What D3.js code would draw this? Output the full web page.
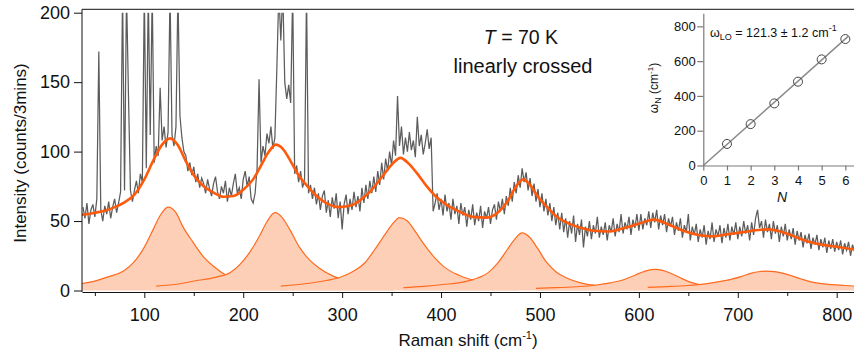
<!DOCTYPE html>
<html>
<head>
<meta charset="utf-8">
<script src="https://cdn.jsdelivr.net/npm/d3@7"></script>
<style>
  body { margin: 0; background: #fff; }
  text { font-family: "Liberation Sans", Arial, Helvetica, sans-serif; fill: #111; }
</style>
</head>
<body>
<script>
// main axes
const xTicks = [100, 200, 300, 400, 500, 600, 700, 800];
const xMinor = [50, 150, 250, 350, 450, 550, 650, 750];
const yTicks = [0, 50, 100, 150, 200];

// measured spectrum, one value every 2 cm-1 from 38 to 818
const specStart = 38, specStep = 2;
const specI = [
  // 38-98
  60, 52, 63, 48, 58, 62, 53, 66, 172, 58, 50, 61, 55, 64, 52, 60, 66, 56, 63, 71, 215, 72, 215, 140, 72, 64, 72, 79, 70, 84, 78,
  // 100-140
  215, 88, 215, 112, 215, 92, 104, 97, 146, 108, 118, 103, 114, 215, 112, 104, 118, 215, 126, 110, 100,
  // 142-210
  97, 86, 92, 83, 89, 78, 84, 74, 81, 77, 70, 80, 73, 68, 77, 82, 71, 66, 75, 70, 79, 64, 74, 68, 77, 84, 70, 74, 66, 80, 86, 75, 82, 66, 63,
  // 212-270
  70, 88, 152, 92, 104, 97, 113, 106, 118, 102, 110, 160, 215, 180, 215, 150, 138, 148, 135, 215, 84, 90, 78, 86, 74, 80, 215, 70, 76, 66,
  // 272-330
  74, 62, 70, 58, 68, 72, 56, 65, 53, 67, 59, 70, 52, 64, 44, 62, 69, 55, 66, 58, 71, 60, 68, 57, 74, 63, 76, 66, 79, 70,
  // 332-392
  82, 71, 86, 76, 92, 80, 95, 86, 100, 90, 108, 97, 140, 104, 118, 98, 110, 100, 114, 101, 108, 96, 125, 104, 112, 98, 106, 116, 102, 110, 57,
  // 394-460
  63, 70, 58, 66, 54, 69, 57, 63, 51, 66, 55, 61, 48, 63, 54, 60, 46, 58, 51, 62, 47, 56, 50, 61, 45, 57, 52, 60, 48, 58, 62, 51, 64, 57,
  // 462-520
  66, 55, 68, 61, 74, 64, 78, 70, 83, 74, 88, 78, 85, 72, 81, 68, 77, 64, 73, 60, 70, 57, 66, 54, 63, 50, 60, 47, 56, 44,
  // 522-600
  56, 42, 52, 38, 50, 41, 54, 35, 48, 40, 51, 31, 46, 39, 50, 37, 47, 41, 53, 38, 46, 40, 49, 36, 47, 42, 52, 39, 48, 42, 55, 41, 49, 44, 53, 40, 51, 45, 55, 43,
  // 602-700
  55, 44, 52, 47, 57, 45, 56, 49, 58, 44, 54, 47, 55, 42, 52, 46, 53, 40, 49, 43, 52, 38, 47, 42, 55, 36, 46, 40, 48, 35, 44, 38, 47, 33, 43, 37, 49, 35, 44, 39, 47, 34, 45, 38, 48, 36, 46, 40, 49, 37,
  // 702-818
  46, 39, 50, 41, 47, 36, 49, 40, 52, 58, 45, 50, 38, 51, 42, 48, 37, 50, 41, 47, 35, 46, 39, 48, 36, 44, 37, 45, 33, 43, 36, 42, 31, 40, 34, 41, 30, 38, 33, 40, 29, 37, 31, 38, 27, 36, 30, 37, 28, 35, 29, 36, 26, 34, 29, 35, 25, 33, 28
];

// total fit (orange)
const fitX = [37, 50, 60, 70, 80, 90, 100, 110, 118, 126, 134, 142, 150, 160, 170, 180, 190, 200, 210, 218, 226, 233, 240, 248, 256, 265, 275, 285, 297, 310, 320, 330, 340, 350, 359, 367, 375, 385, 395, 405, 418, 432, 446, 458, 468, 476, 483, 490, 498, 508, 518, 530, 542, 555, 570, 585, 600, 615, 630, 645, 660, 675, 690, 705, 720, 730, 740, 755, 770, 785, 800, 818];
const fitY = [54.5, 56, 57.5, 60, 63.5, 69, 80, 95, 105, 109.5, 104.5, 93, 83, 75, 70.5, 67.5, 68, 72.5, 80, 90, 100, 105, 102, 93, 83, 75, 67.5, 62.5, 60, 61.5, 66, 72.5, 81.5, 90.5, 95.5, 91.5, 85, 75.5, 67.5, 62, 57, 53, 52.5, 56.5, 65, 75, 80, 76, 67.5, 59.5, 52.5, 48, 45, 43, 42.5, 45, 48, 51, 47.5, 43, 40, 39, 40.5, 42, 43.5, 44, 43, 39.5, 35.5, 33, 31.5, 29.5];

// fitted peak components, values at offsets from each centre
const peakCenters = [124, 232, 358, 482, 616, 729];
const peakOffsets = [-120, -100, -80, -60, -45, -35, -25, -15, -8, 0, 8, 15, 25, 35, 45, 60, 80, 100, 120];
const peak1 = [3, 4, 5.8, 10, 14, 20, 30, 44, 54, 60, 56, 46, 35, 25, 18, 10.5, 6, 4, 3];
const peak2 = [3.2, 4.5, 7, 9.5, 13, 19, 28, 40, 49.5, 56, 52, 44, 31, 22, 16, 10, 6, 4, 3];
const peak3 = [3.2, 4.5, 6.5, 9.5, 14.5, 20, 29.5, 40, 47, 52.5, 50, 43.5, 33, 24, 17, 11, 6.5, 4.5, 3];
const peak4 = [2, 3, 4.3, 6, 9, 12.5, 19.5, 29.5, 36.5, 41.5, 38, 31, 20, 13, 9, 5.3, 3.2, 2.4, 2];
const peak5 = [1.5, 2, 2.7, 3.8, 5.5, 7, 9.5, 12.5, 14.3, 15.2, 14.5, 12.8, 9.5, 6.2, 4.3, 3, 2.2, 1.7, 1.4];
const peak6 = [2.2, 2.8, 3.6, 5, 6.7, 8.2, 10.2, 12.5, 13.5, 14, 13.6, 12.7, 10.7, 8.3, 6.2, 4.6, 3.6, 2.8, 2.3];
const peakValues = [peak1, peak2, peak3, peak4, peak5, peak6];

// inset: phonon order vs shift
const insetN = [1, 2, 3, 4, 5, 6];
const insetW = [124, 238, 357, 482, 610, 727];
const insetLineN = [0, 6.12];
const insetLineW = [0, 742];
const insetXTicks = [0, 1, 2, 3, 4, 5, 6];
const insetYTicks = [0, 200, 400, 600, 800];

const width = 854, height = 354;
const svg = d3.select("body").append("svg")
  .attr("width", width).attr("height", height);

const x = d3.scaleLinear().domain([37, 818]).range([82, 854.5]);
const y = d3.scaleLinear().domain([0, 200]).range([290.5, 12.7]);

svg.append("clipPath").attr("id", "plot")
  .append("rect")
  .attr("x", 82).attr("y", y(200))
  .attr("width", 854.5 - 82).attr("height", 292 - y(200));

const plot = svg.append("g").attr("clip-path", "url(#plot)");

// peaks
const area = d3.area()
  .x(d => x(d[0])).y0(y(0)).y1(d => y(d[1]))
  .curve(d3.curveMonotoneX);
const line = d3.line()
  .x(d => x(d[0])).y(d => y(d[1]))
  .curve(d3.curveMonotoneX);

peakValues.forEach((vals, k) => {
  let pts = vals.map((v, j) => [peakCenters[k] + peakOffsets[j], v]);
  plot.append("path").datum(pts)
    .attr("d", area)
    .attr("fill", "#fccfb6");
  plot.append("path").datum(pts)
    .attr("d", line)
    .attr("fill", "none")
    .attr("stroke", "#ff6a1e")
    .attr("stroke-width", 1.2);
});

// spectrum
const spec = specI.map((v, i) => [specStart + i * specStep, v]);
plot.append("path").datum(spec)
  .attr("d", d3.line().x(d => x(d[0])).y(d => y(d[1])))
  .attr("fill", "none")
  .attr("stroke", "#5c5c5c")
  .attr("stroke-width", 1.25);

// total fit
plot.append("path").datum(fitX.map((v, i) => [v, fitY[i]]))
  .attr("d", line)
  .attr("fill", "none")
  .attr("stroke", "#ff5a0c")
  .attr("stroke-width", 2.6);

// axes
const ejeX = svg.append("g")
  .attr("transform", "translate(0,292)")
  .call(d3.axisBottom(x).tickValues(xTicks).tickSize(6).tickPadding(10.5).tickSizeOuter(0));
svg.append("g")
  .attr("transform", "translate(0,292)")
  .call(d3.axisBottom(x).tickValues(xMinor).tickSize(4).tickFormat("").tickSizeOuter(0))
  .select(".domain").remove();
const ejeY = svg.append("g")
  .attr("transform", "translate(82,0)")
  .call(d3.axisLeft(y).tickValues(yTicks).tickSize(8).tickPadding(4).tickSizeOuter(0));
ejeY.select(".domain").attr("d", "M0,9.3V292");
svg.selectAll(".tick text").attr("font-size", 18).attr("font-family", null);
svg.selectAll(".domain, .tick line").attr("stroke", "#111");

// top frame line
svg.append("line")
  .attr("x1", 82).attr("x2", 854).attr("y1", 9.3).attr("y2", 9.3)
  .attr("stroke", "#111").attr("stroke-width", 1);

// axis titles
const xt = svg.append("text")
  .attr("x", 468).attr("y", 346)
  .attr("text-anchor", "middle")
  .attr("font-size", 17);
xt.append("tspan").text("Raman shift (cm");
xt.append("tspan").attr("dy", -7).attr("font-size", 11).text("-1");
xt.append("tspan").attr("dy", 7).text(")");

svg.append("text")
  .attr("transform", "translate(26,153) rotate(-90)")
  .attr("text-anchor", "middle")
  .attr("font-size", 17)
  .text("Intensity (counts/3mins)");

// annotations
const tt = svg.append("text")
  .attr("x", 521).attr("y", 44)
  .attr("text-anchor", "middle")
  .attr("font-size", 19.5);
tt.append("tspan").attr("font-style", "italic").text("T");
tt.append("tspan").text(" = 70 K");

svg.append("text")
  .attr("x", 523).attr("y", 73)
  .attr("text-anchor", "middle")
  .attr("font-size", 20)
  .text("linearly crossed");

// inset
const ix = d3.scaleLinear().domain([0, 6.4]).range([703.3, 854.8]);
const iy = d3.scaleLinear().domain([0, 875]).range([165.5, 13.3]);

const inset = svg.append("g");
inset.append("line")
  .attr("x1", ix(insetLineN[0])).attr("y1", iy(insetLineW[0]))
  .attr("x2", ix(insetLineN[1])).attr("y2", iy(insetLineW[1]))
  .attr("stroke", "#8a8a8a").attr("stroke-width", 1.5);

inset.selectAll("circle")
  .data(insetN)
  .enter()
  .append("circle")
  .attr("cx", d => ix(d))
  .attr("cy", (d, i) => iy(insetW[i]))
  .attr("r", 4.5)
  .attr("fill", "none")
  .attr("stroke", "#444")
  .attr("stroke-width", 1);

const iejeX = inset.append("g")
  .attr("transform", "translate(0," + iy(0) + ")")
  .call(d3.axisBottom(ix).tickValues(insetXTicks).tickFormat(d3.format("d")).tickSize(5).tickPadding(5).tickSizeOuter(0));
const iejeY = inset.append("g")
  .attr("transform", "translate(" + ix(0) + ",0)")
  .call(d3.axisLeft(iy).tickValues(insetYTicks).tickSize(6).tickPadding(1.5).tickSizeOuter(0));
inset.selectAll(".domain, .tick line").attr("stroke", "#7a7a7a").attr("stroke-width", 1.2);
inset.selectAll(".tick text").attr("font-size", 13).attr("font-family", null);

inset.append("text")
  .attr("x", 782).attr("y", 202)
  .attr("text-anchor", "middle")
  .attr("font-size", 14)
  .attr("font-style", "italic")
  .text("N");

const iyt = inset.append("text")
  .attr("transform", "translate(658,88) rotate(-90)")
  .attr("text-anchor", "middle")
  .attr("font-size", 12);
iyt.append("tspan").text("\u03c9");
iyt.append("tspan").attr("dy", 3).attr("font-size", 9).text("N");
iyt.append("tspan").attr("dy", -3).text(" (cm");
iyt.append("tspan").attr("dy", -5).attr("font-size", 8).text("-1");
iyt.append("tspan").attr("dy", 5).text(")");

const lo = inset.append("text")
  .attr("x", 710).attr("y", 37)
  .attr("font-size", 12.5);
lo.append("tspan").text("\u03c9");
lo.append("tspan").attr("dy", 3).attr("font-size", 9).text("LO");
lo.append("tspan").attr("dy", -3).text(" = 121.3 \u00b1 1.2 cm");
lo.append("tspan").attr("dy", -6).attr("font-size", 9).text("-1");
</script>
</body>
</html>
